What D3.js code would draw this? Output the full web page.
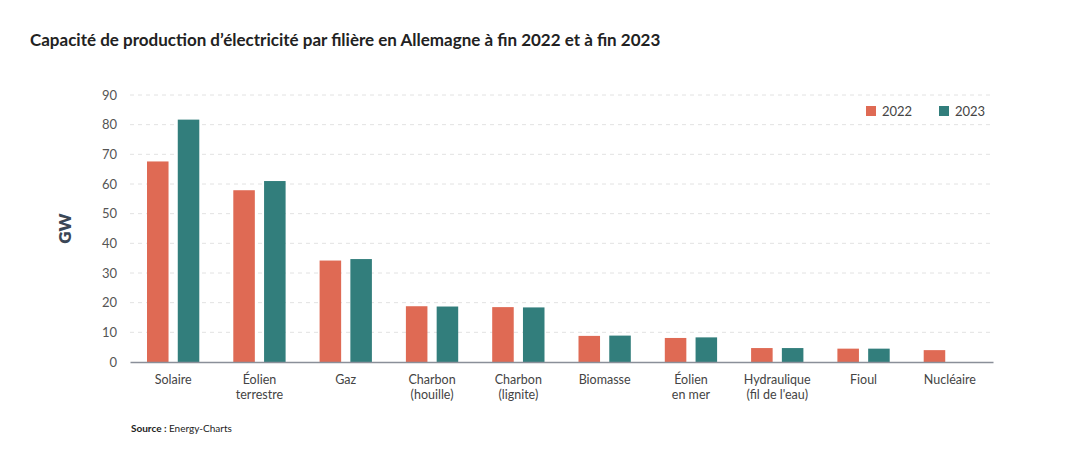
<!DOCTYPE html>
<html>
<head>
<meta charset="utf-8">
<script src="https://cdn.jsdelivr.net/npm/d3@7"></script>
<style>
  body { margin: 0; background: #fff; font-family: Lato, "Noto Sans", sans-serif; }
</style>
</head>
<body>
<div id="chart"></div>
<script>
// data (GW)
const categories = ['Solaire', 'Éolien\nterrestre', 'Gaz', 'Charbon\n(houille)', 'Charbon\n(lignite)',
  'Biomasse', 'Éolien\nen mer', 'Hydraulique\n(fil de l\'eau)', 'Fioul', 'Nucléaire']
const years = ['2022', '2023']
const values2022 = [67.6, 57.9, 34.2, 18.8, 18.5, 8.8, 8.1, 4.7, 4.5, 4.0]
const values2023 = [81.7, 61.0, 34.7, 18.7, 18.4, 8.9, 8.3, 4.7, 4.5, 0]
const yTicks = [0, 10, 20, 30, 40, 50, 60, 70, 80, 90]
const colors = ['#df6a54', '#327e7c']

const W = 1090, H = 467
const margin = {top: 95, left: 130, right: 97, bottom: 105}
const width = W - margin.left - margin.right
const height = H - margin.top - margin.bottom

const svg = d3.select('#chart').append('svg')
  .attr('width', W).attr('height', H)

svg.append('text')
  .attr('x', 30).attr('y', 46)
  .attr('font-size', 17).attr('font-weight', 700).attr('fill', '#222')
  .text('Capacité de production d\u2019électricité par filière en Allemagne à fin 2022 et à fin 2023')

const g = svg.append('g').attr('transform', `translate(${margin.left},${margin.top})`)

const x = d3.scaleBand().domain(categories).range([0, width])
const xInner = d3.scaleBand().domain(years).range([17, x.bandwidth() - 17]).paddingInner(0.3)
const y = d3.scaleLinear().domain([0, 90]).range([height, 0])

// grid
g.selectAll('.grid').data(yTicks.filter(d => d > 0)).join('line')
  .attr('x1', 0).attr('x2', width)
  .attr('y1', d => y(d)).attr('y2', d => y(d))
  .attr('stroke', '#e2e2e2').attr('stroke-dasharray', '4,4')

// y axis labels
const yAxis = g.append('g').call(d3.axisLeft(y).tickValues(yTicks).tickSize(0).tickPadding(13))
yAxis.select('.domain').remove()
yAxis.selectAll('text').attr('font-size', 13).attr('fill', '#555').attr('font-family', 'Lato, sans-serif')

svg.append('text')
  .attr('transform', `translate(71,${margin.top + height / 2}) rotate(-90)`)
  .attr('text-anchor', 'middle')
  .attr('font-size', 17).attr('font-weight', 800).attr('fill', '#3b4756')
  .text('GW')

// bars
const rows = categories.map((c, i) => ({cat: c, vals: [values2022[i], values2023[i]]}))
const groups = g.selectAll('.grp').data(rows).join('g')
  .attr('transform', d => `translate(${x(d.cat)},0)`)
groups.selectAll('rect').data(d => d.vals.map((v, j) => ({year: years[j], v: v, j: j})))
  .join('rect')
  .filter(d => d.v > 0)
  .attr('x', d => xInner(d.year))
  .attr('width', xInner.bandwidth())
  .attr('y', d => y(d.v))
  .attr('height', d => y(0) - y(d.v))
  .attr('fill', d => colors[d.j])

// x axis
const xAxis = g.append('g').attr('transform', `translate(0,${height})`)
  .call(d3.axisBottom(x).tickSize(0).tickPadding(0))
xAxis.select('.domain').attr('stroke', '#8a8f99').attr('stroke-width', 1.5)
xAxis.selectAll('.tick text').each(function(d) {
  const t = d3.select(this).text(null)
    .attr('font-size', 12.5).attr('fill', '#444').attr('font-family', 'Lato, sans-serif').attr('y', 22)
  d.split('\n').forEach((line, i) => {
    t.append('tspan').attr('x', 0).attr('dy', i ? 15 : 0).text(line)
  })
})

// legend
const legend = svg.append('g').attr('transform', 'translate(866,106)')
years.forEach((yr, i) => {
  const lg = legend.append('g').attr('transform', `translate(${i * 73},0)`)
  lg.append('rect').attr('width', 10).attr('height', 10).attr('fill', colors[i])
  lg.append('text').attr('x', 16).attr('y', 10).attr('font-size', 13).attr('fill', '#444').text(yr)
})

// source
const src = svg.append('text').attr('x', 131).attr('y', 432).attr('font-size', 10).attr('fill', '#222')
src.append('tspan').attr('font-weight', 700).text('Source : ')
src.append('tspan').text('Energy-Charts')
</script>
</body>
</html>
